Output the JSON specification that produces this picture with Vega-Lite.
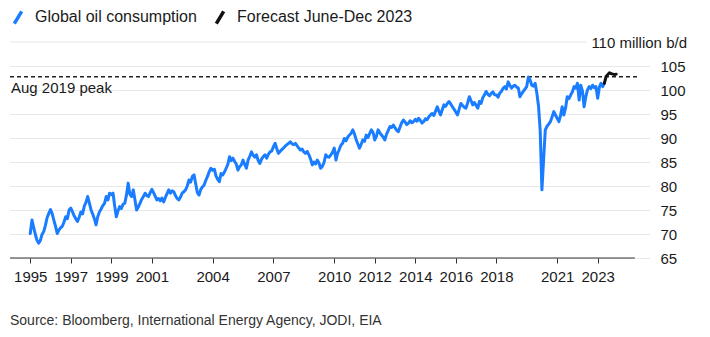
{
  "$schema": "https://vega.github.io/schema/vega-lite/v6.json",
  "width": 640,
  "height": 216,
  "autosize": {"type": "none"},
  "padding": {"left": 10, "top": 42, "right": 60, "bottom": 79},
  "config": {"view": {"stroke": null}, "font": "Liberation Sans"},
  "title": {"text": "Source: Bloomberg, International Energy Agency, JODI, EIA", "orient": "bottom", "anchor": "start", "frame": "group", "offset": 30, "fontSize": 14, "fontWeight": "normal", "color": "#333333", "font": "Liberation Sans"},
  "datasets": {
    "oil": [
      {"date":"1995-01-01","value":70.1,"series":"Global oil consumption"},{"date":"1995-02-01","value":72.9,"series":"Global oil consumption"},{"date":"1995-03-01","value":71.5,"series":"Global oil consumption"},{"date":"1995-04-01","value":70.0,"series":"Global oil consumption"},{"date":"1995-05-01","value":68.75,"series":"Global oil consumption"},{"date":"1995-06-01","value":68.1,"series":"Global oil consumption"},{"date":"1995-07-01","value":68.6,"series":"Global oil consumption"},{"date":"1995-08-01","value":69.9,"series":"Global oil consumption"},{"date":"1995-09-01","value":70.5,"series":"Global oil consumption"},{"date":"1995-10-01","value":71.8,"series":"Global oil consumption"},{"date":"1995-11-01","value":73.4,"series":"Global oil consumption"},{"date":"1995-12-01","value":74.3,"series":"Global oil consumption"},
      {"date":"1996-01-01","value":75.1,"series":"Global oil consumption"},{"date":"1996-02-01","value":74.2,"series":"Global oil consumption"},{"date":"1996-03-01","value":72.9,"series":"Global oil consumption"},{"date":"1996-04-01","value":71.6,"series":"Global oil consumption"},{"date":"1996-05-01","value":70.1,"series":"Global oil consumption"},{"date":"1996-06-01","value":70.8,"series":"Global oil consumption"},{"date":"1996-07-01","value":71.3,"series":"Global oil consumption"},{"date":"1996-08-01","value":71.6,"series":"Global oil consumption"},{"date":"1996-09-01","value":72.5,"series":"Global oil consumption"},{"date":"1996-10-01","value":73.6,"series":"Global oil consumption"},{"date":"1996-11-01","value":73.2,"series":"Global oil consumption"},{"date":"1996-12-01","value":75.0,"series":"Global oil consumption"},
      {"date":"1997-01-01","value":75.4,"series":"Global oil consumption"},{"date":"1997-02-01","value":74.6,"series":"Global oil consumption"},{"date":"1997-03-01","value":73.8,"series":"Global oil consumption"},{"date":"1997-04-01","value":73.2,"series":"Global oil consumption"},{"date":"1997-05-01","value":72.6,"series":"Global oil consumption"},{"date":"1997-06-01","value":73.5,"series":"Global oil consumption"},{"date":"1997-07-01","value":74.6,"series":"Global oil consumption"},{"date":"1997-08-01","value":74.2,"series":"Global oil consumption"},{"date":"1997-09-01","value":75.8,"series":"Global oil consumption"},{"date":"1997-10-01","value":76.6,"series":"Global oil consumption"},{"date":"1997-11-01","value":77.8,"series":"Global oil consumption"},{"date":"1997-12-01","value":76.5,"series":"Global oil consumption"},
      {"date":"1998-01-01","value":75.0,"series":"Global oil consumption"},{"date":"1998-02-01","value":74.1,"series":"Global oil consumption"},{"date":"1998-03-01","value":73.2,"series":"Global oil consumption"},{"date":"1998-04-01","value":71.9,"series":"Global oil consumption"},{"date":"1998-05-01","value":73.6,"series":"Global oil consumption"},{"date":"1998-06-01","value":74.6,"series":"Global oil consumption"},{"date":"1998-07-01","value":75.2,"series":"Global oil consumption"},{"date":"1998-08-01","value":75.9,"series":"Global oil consumption"},{"date":"1998-09-01","value":76.4,"series":"Global oil consumption"},{"date":"1998-10-01","value":77.8,"series":"Global oil consumption"},{"date":"1998-11-01","value":77.1,"series":"Global oil consumption"},{"date":"1998-12-01","value":78.5,"series":"Global oil consumption"},
      {"date":"1999-01-01","value":78.2,"series":"Global oil consumption"},{"date":"1999-02-01","value":78.5,"series":"Global oil consumption"},{"date":"1999-03-01","value":76.0,"series":"Global oil consumption"},{"date":"1999-04-01","value":73.6,"series":"Global oil consumption"},{"date":"1999-05-01","value":74.8,"series":"Global oil consumption"},{"date":"1999-06-01","value":75.7,"series":"Global oil consumption"},{"date":"1999-07-01","value":75.3,"series":"Global oil consumption"},{"date":"1999-08-01","value":76.2,"series":"Global oil consumption"},{"date":"1999-09-01","value":76.4,"series":"Global oil consumption"},{"date":"1999-10-01","value":78.1,"series":"Global oil consumption"},{"date":"1999-11-01","value":80.6,"series":"Global oil consumption"},{"date":"1999-12-01","value":78.3,"series":"Global oil consumption"},
      {"date":"2000-01-01","value":77.8,"series":"Global oil consumption"},{"date":"2000-02-01","value":79.2,"series":"Global oil consumption"},{"date":"2000-03-01","value":77.2,"series":"Global oil consumption"},{"date":"2000-04-01","value":75.0,"series":"Global oil consumption"},{"date":"2000-05-01","value":75.6,"series":"Global oil consumption"},{"date":"2000-06-01","value":76.4,"series":"Global oil consumption"},{"date":"2000-07-01","value":77.2,"series":"Global oil consumption"},{"date":"2000-08-01","value":77.8,"series":"Global oil consumption"},{"date":"2000-09-01","value":78.5,"series":"Global oil consumption"},{"date":"2000-10-01","value":78.0,"series":"Global oil consumption"},{"date":"2000-11-01","value":77.8,"series":"Global oil consumption"},{"date":"2000-12-01","value":78.6,"series":"Global oil consumption"},
      {"date":"2001-01-01","value":79.3,"series":"Global oil consumption"},{"date":"2001-02-01","value":78.6,"series":"Global oil consumption"},{"date":"2001-03-01","value":77.9,"series":"Global oil consumption"},{"date":"2001-04-01","value":77.1,"series":"Global oil consumption"},{"date":"2001-05-01","value":77.4,"series":"Global oil consumption"},{"date":"2001-06-01","value":76.9,"series":"Global oil consumption"},{"date":"2001-07-01","value":77.5,"series":"Global oil consumption"},{"date":"2001-08-01","value":76.7,"series":"Global oil consumption"},{"date":"2001-09-01","value":77.6,"series":"Global oil consumption"},{"date":"2001-10-01","value":78.4,"series":"Global oil consumption"},{"date":"2001-11-01","value":79.2,"series":"Global oil consumption"},{"date":"2001-12-01","value":78.5,"series":"Global oil consumption"},
      {"date":"2002-01-01","value":79.0,"series":"Global oil consumption"},{"date":"2002-02-01","value":78.8,"series":"Global oil consumption"},{"date":"2002-03-01","value":78.0,"series":"Global oil consumption"},{"date":"2002-04-01","value":77.4,"series":"Global oil consumption"},{"date":"2002-05-01","value":77.1,"series":"Global oil consumption"},{"date":"2002-06-01","value":77.7,"series":"Global oil consumption"},{"date":"2002-07-01","value":78.5,"series":"Global oil consumption"},{"date":"2002-08-01","value":78.8,"series":"Global oil consumption"},{"date":"2002-09-01","value":79.2,"series":"Global oil consumption"},{"date":"2002-10-01","value":80.0,"series":"Global oil consumption"},{"date":"2002-11-01","value":81.25,"series":"Global oil consumption"},{"date":"2002-12-01","value":80.8,"series":"Global oil consumption"},
      {"date":"2003-01-01","value":82.0,"series":"Global oil consumption"},{"date":"2003-02-01","value":82.3,"series":"Global oil consumption"},{"date":"2003-03-01","value":80.5,"series":"Global oil consumption"},{"date":"2003-04-01","value":78.6,"series":"Global oil consumption"},{"date":"2003-05-01","value":78.1,"series":"Global oil consumption"},{"date":"2003-06-01","value":79.3,"series":"Global oil consumption"},{"date":"2003-07-01","value":79.8,"series":"Global oil consumption"},{"date":"2003-08-01","value":80.2,"series":"Global oil consumption"},{"date":"2003-09-01","value":81.2,"series":"Global oil consumption"},{"date":"2003-10-01","value":82.0,"series":"Global oil consumption"},{"date":"2003-11-01","value":83.0,"series":"Global oil consumption"},{"date":"2003-12-01","value":83.7,"series":"Global oil consumption"},
      {"date":"2004-01-01","value":83.3,"series":"Global oil consumption"},{"date":"2004-02-01","value":83.5,"series":"Global oil consumption"},{"date":"2004-03-01","value":82.1,"series":"Global oil consumption"},{"date":"2004-04-01","value":81.4,"series":"Global oil consumption"},{"date":"2004-05-01","value":80.9,"series":"Global oil consumption"},{"date":"2004-06-01","value":82.6,"series":"Global oil consumption"},{"date":"2004-07-01","value":82.3,"series":"Global oil consumption"},{"date":"2004-08-01","value":82.9,"series":"Global oil consumption"},{"date":"2004-09-01","value":83.7,"series":"Global oil consumption"},{"date":"2004-10-01","value":84.5,"series":"Global oil consumption"},{"date":"2004-11-01","value":86.1,"series":"Global oil consumption"},{"date":"2004-12-01","value":85.3,"series":"Global oil consumption"},
      {"date":"2005-01-01","value":85.8,"series":"Global oil consumption"},{"date":"2005-02-01","value":85.1,"series":"Global oil consumption"},{"date":"2005-03-01","value":84.6,"series":"Global oil consumption"},{"date":"2005-04-01","value":83.3,"series":"Global oil consumption"},{"date":"2005-05-01","value":84.0,"series":"Global oil consumption"},{"date":"2005-06-01","value":84.4,"series":"Global oil consumption"},{"date":"2005-07-01","value":85.4,"series":"Global oil consumption"},{"date":"2005-08-01","value":84.5,"series":"Global oil consumption"},{"date":"2005-09-01","value":83.7,"series":"Global oil consumption"},{"date":"2005-10-01","value":85.4,"series":"Global oil consumption"},{"date":"2005-11-01","value":86.2,"series":"Global oil consumption"},{"date":"2005-12-01","value":87.1,"series":"Global oil consumption"},
      {"date":"2006-01-01","value":86.4,"series":"Global oil consumption"},{"date":"2006-02-01","value":86.0,"series":"Global oil consumption"},{"date":"2006-03-01","value":86.5,"series":"Global oil consumption"},{"date":"2006-04-01","value":85.3,"series":"Global oil consumption"},{"date":"2006-05-01","value":84.7,"series":"Global oil consumption"},{"date":"2006-06-01","value":85.6,"series":"Global oil consumption"},{"date":"2006-07-01","value":86.1,"series":"Global oil consumption"},{"date":"2006-08-01","value":86.5,"series":"Global oil consumption"},{"date":"2006-09-01","value":85.8,"series":"Global oil consumption"},{"date":"2006-10-01","value":86.6,"series":"Global oil consumption"},{"date":"2006-11-01","value":87.1,"series":"Global oil consumption"},{"date":"2006-12-01","value":87.3,"series":"Global oil consumption"},
      {"date":"2007-01-01","value":88.2,"series":"Global oil consumption"},{"date":"2007-02-01","value":88.9,"series":"Global oil consumption"},{"date":"2007-03-01","value":87.8,"series":"Global oil consumption"},{"date":"2007-04-01","value":86.8,"series":"Global oil consumption"},{"date":"2007-05-01","value":87.2,"series":"Global oil consumption"},{"date":"2007-06-01","value":87.6,"series":"Global oil consumption"},{"date":"2007-07-01","value":87.9,"series":"Global oil consumption"},{"date":"2007-08-01","value":88.3,"series":"Global oil consumption"},{"date":"2007-09-01","value":88.6,"series":"Global oil consumption"},{"date":"2007-10-01","value":88.9,"series":"Global oil consumption"},{"date":"2007-11-01","value":89.2,"series":"Global oil consumption"},{"date":"2007-12-01","value":88.8,"series":"Global oil consumption"},
      {"date":"2008-01-01","value":88.6,"series":"Global oil consumption"},{"date":"2008-02-01","value":88.9,"series":"Global oil consumption"},{"date":"2008-03-01","value":88.4,"series":"Global oil consumption"},{"date":"2008-04-01","value":87.9,"series":"Global oil consumption"},{"date":"2008-05-01","value":87.5,"series":"Global oil consumption"},{"date":"2008-06-01","value":87.7,"series":"Global oil consumption"},{"date":"2008-07-01","value":87.1,"series":"Global oil consumption"},{"date":"2008-08-01","value":86.8,"series":"Global oil consumption"},{"date":"2008-09-01","value":87.2,"series":"Global oil consumption"},{"date":"2008-10-01","value":86.5,"series":"Global oil consumption"},{"date":"2008-11-01","value":85.6,"series":"Global oil consumption"},{"date":"2008-12-01","value":84.4,"series":"Global oil consumption"},
      {"date":"2009-01-01","value":85.0,"series":"Global oil consumption"},{"date":"2009-02-01","value":84.6,"series":"Global oil consumption"},{"date":"2009-03-01","value":85.4,"series":"Global oil consumption"},{"date":"2009-04-01","value":84.8,"series":"Global oil consumption"},{"date":"2009-05-01","value":83.7,"series":"Global oil consumption"},{"date":"2009-06-01","value":84.1,"series":"Global oil consumption"},{"date":"2009-07-01","value":84.9,"series":"Global oil consumption"},{"date":"2009-08-01","value":86.5,"series":"Global oil consumption"},{"date":"2009-09-01","value":86.1,"series":"Global oil consumption"},{"date":"2009-10-01","value":86.0,"series":"Global oil consumption"},{"date":"2009-11-01","value":86.5,"series":"Global oil consumption"},{"date":"2009-12-01","value":87.0,"series":"Global oil consumption"},
      {"date":"2010-01-01","value":87.9,"series":"Global oil consumption"},{"date":"2010-02-01","value":85.4,"series":"Global oil consumption"},{"date":"2010-03-01","value":86.8,"series":"Global oil consumption"},{"date":"2010-04-01","value":87.6,"series":"Global oil consumption"},{"date":"2010-05-01","value":88.5,"series":"Global oil consumption"},{"date":"2010-06-01","value":88.9,"series":"Global oil consumption"},{"date":"2010-07-01","value":89.9,"series":"Global oil consumption"},{"date":"2010-08-01","value":89.4,"series":"Global oil consumption"},{"date":"2010-09-01","value":90.2,"series":"Global oil consumption"},{"date":"2010-10-01","value":90.6,"series":"Global oil consumption"},{"date":"2010-11-01","value":91.0,"series":"Global oil consumption"},{"date":"2010-12-01","value":91.7,"series":"Global oil consumption"},
      {"date":"2011-01-01","value":90.8,"series":"Global oil consumption"},{"date":"2011-02-01","value":89.6,"series":"Global oil consumption"},{"date":"2011-03-01","value":88.8,"series":"Global oil consumption"},{"date":"2011-04-01","value":87.9,"series":"Global oil consumption"},{"date":"2011-05-01","value":88.7,"series":"Global oil consumption"},{"date":"2011-06-01","value":89.6,"series":"Global oil consumption"},{"date":"2011-07-01","value":89.3,"series":"Global oil consumption"},{"date":"2011-08-01","value":90.6,"series":"Global oil consumption"},{"date":"2011-09-01","value":90.1,"series":"Global oil consumption"},{"date":"2011-10-01","value":90.9,"series":"Global oil consumption"},{"date":"2011-11-01","value":91.7,"series":"Global oil consumption"},{"date":"2011-12-01","value":91.2,"series":"Global oil consumption"},
      {"date":"2012-01-01","value":89.6,"series":"Global oil consumption"},{"date":"2012-02-01","value":90.4,"series":"Global oil consumption"},{"date":"2012-03-01","value":91.7,"series":"Global oil consumption"},{"date":"2012-04-01","value":91.1,"series":"Global oil consumption"},{"date":"2012-05-01","value":90.6,"series":"Global oil consumption"},{"date":"2012-06-01","value":90.2,"series":"Global oil consumption"},{"date":"2012-07-01","value":89.6,"series":"Global oil consumption"},{"date":"2012-08-01","value":90.8,"series":"Global oil consumption"},{"date":"2012-09-01","value":91.6,"series":"Global oil consumption"},{"date":"2012-10-01","value":92.4,"series":"Global oil consumption"},{"date":"2012-11-01","value":92.2,"series":"Global oil consumption"},{"date":"2012-12-01","value":92.7,"series":"Global oil consumption"},
      {"date":"2013-01-01","value":92.1,"series":"Global oil consumption"},{"date":"2013-02-01","value":91.6,"series":"Global oil consumption"},{"date":"2013-03-01","value":91.3,"series":"Global oil consumption"},{"date":"2013-04-01","value":92.3,"series":"Global oil consumption"},{"date":"2013-05-01","value":93.2,"series":"Global oil consumption"},{"date":"2013-06-01","value":93.75,"series":"Global oil consumption"},{"date":"2013-07-01","value":93.3,"series":"Global oil consumption"},{"date":"2013-08-01","value":92.8,"series":"Global oil consumption"},{"date":"2013-09-01","value":93.1,"series":"Global oil consumption"},{"date":"2013-10-01","value":93.6,"series":"Global oil consumption"},{"date":"2013-11-01","value":93.2,"series":"Global oil consumption"},{"date":"2013-12-01","value":93.4,"series":"Global oil consumption"},
      {"date":"2014-01-01","value":93.9,"series":"Global oil consumption"},{"date":"2014-02-01","value":93.5,"series":"Global oil consumption"},{"date":"2014-03-01","value":94.1,"series":"Global oil consumption"},{"date":"2014-04-01","value":93.7,"series":"Global oil consumption"},{"date":"2014-05-01","value":93.1,"series":"Global oil consumption"},{"date":"2014-06-01","value":93.4,"series":"Global oil consumption"},{"date":"2014-07-01","value":94.0,"series":"Global oil consumption"},{"date":"2014-08-01","value":93.8,"series":"Global oil consumption"},{"date":"2014-09-01","value":94.4,"series":"Global oil consumption"},{"date":"2014-10-01","value":94.8,"series":"Global oil consumption"},{"date":"2014-11-01","value":95.1,"series":"Global oil consumption"},{"date":"2014-12-01","value":94.7,"series":"Global oil consumption"},
      {"date":"2015-01-01","value":95.6,"series":"Global oil consumption"},{"date":"2015-02-01","value":96.5,"series":"Global oil consumption"},{"date":"2015-03-01","value":95.6,"series":"Global oil consumption"},{"date":"2015-04-01","value":94.8,"series":"Global oil consumption"},{"date":"2015-05-01","value":95.9,"series":"Global oil consumption"},{"date":"2015-06-01","value":96.9,"series":"Global oil consumption"},{"date":"2015-07-01","value":96.6,"series":"Global oil consumption"},{"date":"2015-08-01","value":97.2,"series":"Global oil consumption"},{"date":"2015-09-01","value":97.6,"series":"Global oil consumption"},{"date":"2015-10-01","value":97.1,"series":"Global oil consumption"},{"date":"2015-11-01","value":96.5,"series":"Global oil consumption"},{"date":"2015-12-01","value":96.0,"series":"Global oil consumption"},
      {"date":"2016-01-01","value":95.4,"series":"Global oil consumption"},{"date":"2016-02-01","value":94.8,"series":"Global oil consumption"},{"date":"2016-03-01","value":96.0,"series":"Global oil consumption"},{"date":"2016-04-01","value":97.2,"series":"Global oil consumption"},{"date":"2016-05-01","value":96.8,"series":"Global oil consumption"},{"date":"2016-06-01","value":96.4,"series":"Global oil consumption"},{"date":"2016-07-01","value":96.2,"series":"Global oil consumption"},{"date":"2016-08-01","value":97.3,"series":"Global oil consumption"},{"date":"2016-09-01","value":98.6,"series":"Global oil consumption"},{"date":"2016-10-01","value":97.8,"series":"Global oil consumption"},{"date":"2016-11-01","value":96.9,"series":"Global oil consumption"},{"date":"2016-12-01","value":97.4,"series":"Global oil consumption"},
      {"date":"2017-01-01","value":96.8,"series":"Global oil consumption"},{"date":"2017-02-01","value":96.2,"series":"Global oil consumption"},{"date":"2017-03-01","value":97.6,"series":"Global oil consumption"},{"date":"2017-04-01","value":97.2,"series":"Global oil consumption"},{"date":"2017-05-01","value":98.4,"series":"Global oil consumption"},{"date":"2017-06-01","value":99.0,"series":"Global oil consumption"},{"date":"2017-07-01","value":99.7,"series":"Global oil consumption"},{"date":"2017-08-01","value":99.1,"series":"Global oil consumption"},{"date":"2017-09-01","value":98.8,"series":"Global oil consumption"},{"date":"2017-10-01","value":99.3,"series":"Global oil consumption"},{"date":"2017-11-01","value":99.6,"series":"Global oil consumption"},{"date":"2017-12-01","value":99.0,"series":"Global oil consumption"},
      {"date":"2018-01-01","value":98.96,"series":"Global oil consumption"},{"date":"2018-02-01","value":98.5,"series":"Global oil consumption"},{"date":"2018-03-01","value":99.3,"series":"Global oil consumption"},{"date":"2018-04-01","value":99.7,"series":"Global oil consumption"},{"date":"2018-05-01","value":100.3,"series":"Global oil consumption"},{"date":"2018-06-01","value":100.7,"series":"Global oil consumption"},{"date":"2018-07-01","value":100.2,"series":"Global oil consumption"},{"date":"2018-08-01","value":101.7,"series":"Global oil consumption"},{"date":"2018-09-01","value":101.0,"series":"Global oil consumption"},{"date":"2018-10-01","value":100.4,"series":"Global oil consumption"},{"date":"2018-11-01","value":100.8,"series":"Global oil consumption"},{"date":"2018-12-01","value":101.0,"series":"Global oil consumption"},
      {"date":"2019-01-01","value":100.6,"series":"Global oil consumption"},{"date":"2019-02-01","value":100.4,"series":"Global oil consumption"},{"date":"2019-03-01","value":98.6,"series":"Global oil consumption"},{"date":"2019-04-01","value":99.2,"series":"Global oil consumption"},{"date":"2019-05-01","value":99.7,"series":"Global oil consumption"},{"date":"2019-06-01","value":100.2,"series":"Global oil consumption"},{"date":"2019-07-01","value":100.7,"series":"Global oil consumption"},{"date":"2019-08-01","value":102.7,"series":"Global oil consumption"},{"date":"2019-09-01","value":102.1,"series":"Global oil consumption"},{"date":"2019-10-01","value":101.0,"series":"Global oil consumption"},{"date":"2019-11-01","value":100.8,"series":"Global oil consumption"},{"date":"2019-12-01","value":101.4,"series":"Global oil consumption"},
      {"date":"2020-01-01","value":99.3,"series":"Global oil consumption"},{"date":"2020-02-01","value":96.5,"series":"Global oil consumption"},{"date":"2020-03-01","value":91.5,"series":"Global oil consumption"},{"date":"2020-04-01","value":79.2,"series":"Global oil consumption"},{"date":"2020-05-01","value":85.5,"series":"Global oil consumption"},{"date":"2020-06-01","value":91.7,"series":"Global oil consumption"},{"date":"2020-07-01","value":92.4,"series":"Global oil consumption"},{"date":"2020-08-01","value":92.9,"series":"Global oil consumption"},{"date":"2020-09-01","value":93.4,"series":"Global oil consumption"},{"date":"2020-10-01","value":94.4,"series":"Global oil consumption"},{"date":"2020-11-01","value":95.5,"series":"Global oil consumption"},{"date":"2020-12-01","value":94.8,"series":"Global oil consumption"},
      {"date":"2021-01-01","value":94.1,"series":"Global oil consumption"},{"date":"2021-02-01","value":93.4,"series":"Global oil consumption"},{"date":"2021-03-01","value":94.6,"series":"Global oil consumption"},{"date":"2021-04-01","value":96.5,"series":"Global oil consumption"},{"date":"2021-05-01","value":94.8,"series":"Global oil consumption"},{"date":"2021-06-01","value":96.2,"series":"Global oil consumption"},{"date":"2021-07-01","value":98.6,"series":"Global oil consumption"},{"date":"2021-08-01","value":98.2,"series":"Global oil consumption"},{"date":"2021-09-01","value":98.96,"series":"Global oil consumption"},{"date":"2021-10-01","value":99.6,"series":"Global oil consumption"},{"date":"2021-11-01","value":100.7,"series":"Global oil consumption"},{"date":"2021-12-01","value":100.4,"series":"Global oil consumption"},
      {"date":"2022-01-01","value":101.4,"series":"Global oil consumption"},{"date":"2022-02-01","value":97.9,"series":"Global oil consumption"},{"date":"2022-03-01","value":101.0,"series":"Global oil consumption"},{"date":"2022-04-01","value":99.8,"series":"Global oil consumption"},{"date":"2022-05-01","value":96.5,"series":"Global oil consumption"},{"date":"2022-06-01","value":98.6,"series":"Global oil consumption"},{"date":"2022-07-01","value":100.0,"series":"Global oil consumption"},{"date":"2022-08-01","value":100.7,"series":"Global oil consumption"},{"date":"2022-09-01","value":100.3,"series":"Global oil consumption"},{"date":"2022-10-01","value":101.0,"series":"Global oil consumption"},{"date":"2022-11-01","value":100.5,"series":"Global oil consumption"},{"date":"2022-12-01","value":100.7,"series":"Global oil consumption"},
      {"date":"2023-01-01","value":98.3,"series":"Global oil consumption"},{"date":"2023-02-01","value":100.6,"series":"Global oil consumption"},{"date":"2023-03-01","value":101.4,"series":"Global oil consumption"},{"date":"2023-04-01","value":100.7,"series":"Global oil consumption"},{"date":"2023-05-01","value":101.4,"series":"Global oil consumption"},
      {"date":"2023-05-01","value":101.4,"series":"Forecast June-Dec 2023"},{"date":"2023-06-01","value":102.8,"series":"Forecast June-Dec 2023"},{"date":"2023-07-01","value":103.2,"series":"Forecast June-Dec 2023"},{"date":"2023-08-01","value":103.6,"series":"Forecast June-Dec 2023"},{"date":"2023-09-01","value":103.4,"series":"Forecast June-Dec 2023"},{"date":"2023-10-01","value":103.3,"series":"Forecast June-Dec 2023"},{"date":"2023-11-01","value":103.2,"series":"Forecast June-Dec 2023"},{"date":"2023-12-01","value":103.3,"series":"Forecast June-Dec 2023"}
    ]
  },
  "encoding": {
    "x": {
      "field": "date", "type": "temporal",
      "scale": {"domain": [{"year": 1994, "month": 1, "date": 1}, {"year": 2025, "month": 8, "date": 1}]},
      "axis": {
        "title": null, "grid": false, "domain": false, "format": "%Y",
        "values": [{"year":1995},{"year":1997},{"year":1999},{"year":2001},{"year":2004},{"year":2007},{"year":2010},{"year":2012},{"year":2014},{"year":2016},{"year":2018},{"year":2021},{"year":2023}],
        "tickSize": 5, "tickColor": "#333333", "tickWidth": 1,
        "labelFontSize": 15, "labelColor": "#1a1a1a", "labelPadding": 6, "labelFont": "Liberation Sans",
        "labelOverlap": false, "labelFlush": false
      }
    },
    "y": {
      "field": "value", "type": "quantitative",
      "scale": {"domain": [65, 110], "zero": false, "nice": false},
      "axis": {
        "title": null, "orient": "right", "domain": false, "ticks": false, "tickSize": 0,
        "values": [65, 70, 75, 80, 85, 90, 95, 100, 105],
        "grid": true, "gridColor": "#e8e8e8", "gridWidth": 1,
        "labelFontSize": 15, "labelColor": "#1a1a1a", "labelPadding": 10, "labelFont": "Liberation Sans", "labelAlign": "left"
      }
    }
  },
  "layer": [
    {
      "data": {"values": [{"date": "1994-01-01", "date2": "2022-06-20", "value": 110}]},
      "mark": {"type": "rule", "color": "#e8e8e8", "strokeWidth": 1},
      "encoding": {"x2": {"field": "date2"}}
    },
    {
      "data": {"values": [{"date": "1994-01-01", "date2": "2024-11-01", "value": 65}]},
      "mark": {"type": "rule", "color": "#333333", "strokeWidth": 1},
      "encoding": {"x2": {"field": "date2"}}
    },
    {
      "data": {"values": [{"date": "1994-01-01", "date2": "2024-12-10", "value": 102.75}]},
      "mark": {"type": "rule", "color": "#222222", "strokeWidth": 1.5, "strokeDash": [4, 3]},
      "encoding": {"x2": {"field": "date2"}}
    },
    {
      "data": {"name": "oil"},
      "mark": {"type": "line", "strokeWidth": 3, "strokeJoin": "round", "strokeCap": "round"},
      "encoding": {
        "color": {
          "field": "series", "type": "nominal",
          "scale": {"domain": ["Global oil consumption", "Forecast June-Dec 2023"], "range": ["#1a7dff", "#111111"]},
          "legend": {
            "title": null, "orient": "none", "direction": "horizontal", "legendX": 0, "legendY": -33,
            "symbolType": "M-0.6,1L0.6,-1", "symbolSize": 150, "symbolStrokeWidth": 3.5,
            "labelFontSize": 16, "labelColor": "#1a1a1a", "labelFont": "Liberation Sans", "labelOffset": 9,
            "columnPadding": 12, "padding": 0, "labelLimit": 400
          }
        }
      }
    },
    {
      "data": {"values": [{"date": "1994-01-01", "value": 102.75, "label": "Aug 2019 peak"}]},
      "mark": {"type": "text", "align": "left", "baseline": "alphabetic", "dx": 1, "dy": 16, "fontSize": 15, "color": "#1a1a1a", "font": "Liberation Sans"},
      "encoding": {"text": {"field": "label"}}
    },
    {
      "data": {"values": [{"date": "2025-08-01", "value": 110, "label": "110 million b/d"}]},
      "mark": {"type": "text", "align": "right", "baseline": "middle", "dx": 37, "dy": 1, "fontSize": 15, "color": "#1a1a1a", "font": "Liberation Sans"},
      "encoding": {"text": {"field": "label"}}
    }
  ]
}
